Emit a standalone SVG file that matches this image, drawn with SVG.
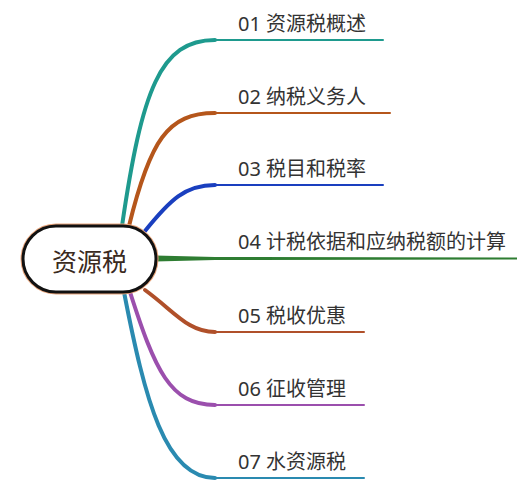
<svg xmlns="http://www.w3.org/2000/svg" width="525" height="485" viewBox="0 0 525 485">
<style>
.lbl{font-family:"Noto Sans","Noto Sans CJK SC",sans-serif;font-size:20px;fill:#333333}
.root{font-family:"Noto Sans CJK SC",sans-serif;font-size:25px;fill:#3a2a20}
.c{fill:none;stroke-linecap:round}
</style>
<rect width="525" height="485" fill="#ffffff"/>
<g id="connectors">
<path class="c" d="M122,226 C142,90 160,40 215,40" stroke="#1e9a8e" stroke-width="4"/>
<path class="c" d="M215,40 H383" stroke="#1e9a8e" stroke-width="2"/>
<path class="c" d="M129,226 C150,140 168,113 215,113" stroke="#b5561b" stroke-width="4"/>
<path class="c" d="M215,113 H390" stroke="#b5561b" stroke-width="2"/>
<path class="c" d="M145,231 C170,200 185,185 215,185" stroke="#1a3fbf" stroke-width="4"/>
<path class="c" d="M215,185 H383" stroke="#1a3fbf" stroke-width="2"/>
<path d="M155,255.5 L215,257 L517,257.5 L517,259.5 L215,260 L155,261.5 Z" fill="#2e7d32"/>
<path class="c" d="M145,290 C175,312 188,332 215,332" stroke="#b0502a" stroke-width="4"/>
<path class="c" d="M215,332 H364" stroke="#b0502a" stroke-width="2"/>
<path class="c" d="M130,292 C155,370 170,405 215,405" stroke="#9b4fad" stroke-width="4"/>
<path class="c" d="M215,405 H364" stroke="#9b4fad" stroke-width="2"/>
<path class="c" d="M124,292 C145,400 165,478 215,478" stroke="#2a8ab0" stroke-width="4"/>
<path class="c" d="M215,478 H364" stroke="#2a8ab0" stroke-width="2"/>
</g>
<g id="root">
<rect x="23" y="226" width="133" height="66" rx="33" fill="#ffffff" stroke="#e8a57c" stroke-width="5"/>
<rect x="23" y="226" width="133" height="66" rx="33" fill="#ffffff" stroke="#111111" stroke-width="3"/>
<text class="root" x="89.5" y="271" text-anchor="middle">资源税</text>
</g>
<g id="n1"><text class="lbl" x="238" y="31">01 资源税概述</text></g>
<g id="n2"><text class="lbl" x="238" y="104">02 纳税义务人</text></g>
<g id="n3"><text class="lbl" x="238" y="176">03 税目和税率</text></g>
<g id="n4"><text class="lbl" x="238" y="249">04 计税依据和应纳税额的计算</text></g>
<g id="n5"><text class="lbl" x="238" y="323">05 税收优惠</text></g>
<g id="n6"><text class="lbl" x="238" y="396">06 征收管理</text></g>
<g id="n7"><text class="lbl" x="238" y="469">07 水资源税</text></g>
</svg>
